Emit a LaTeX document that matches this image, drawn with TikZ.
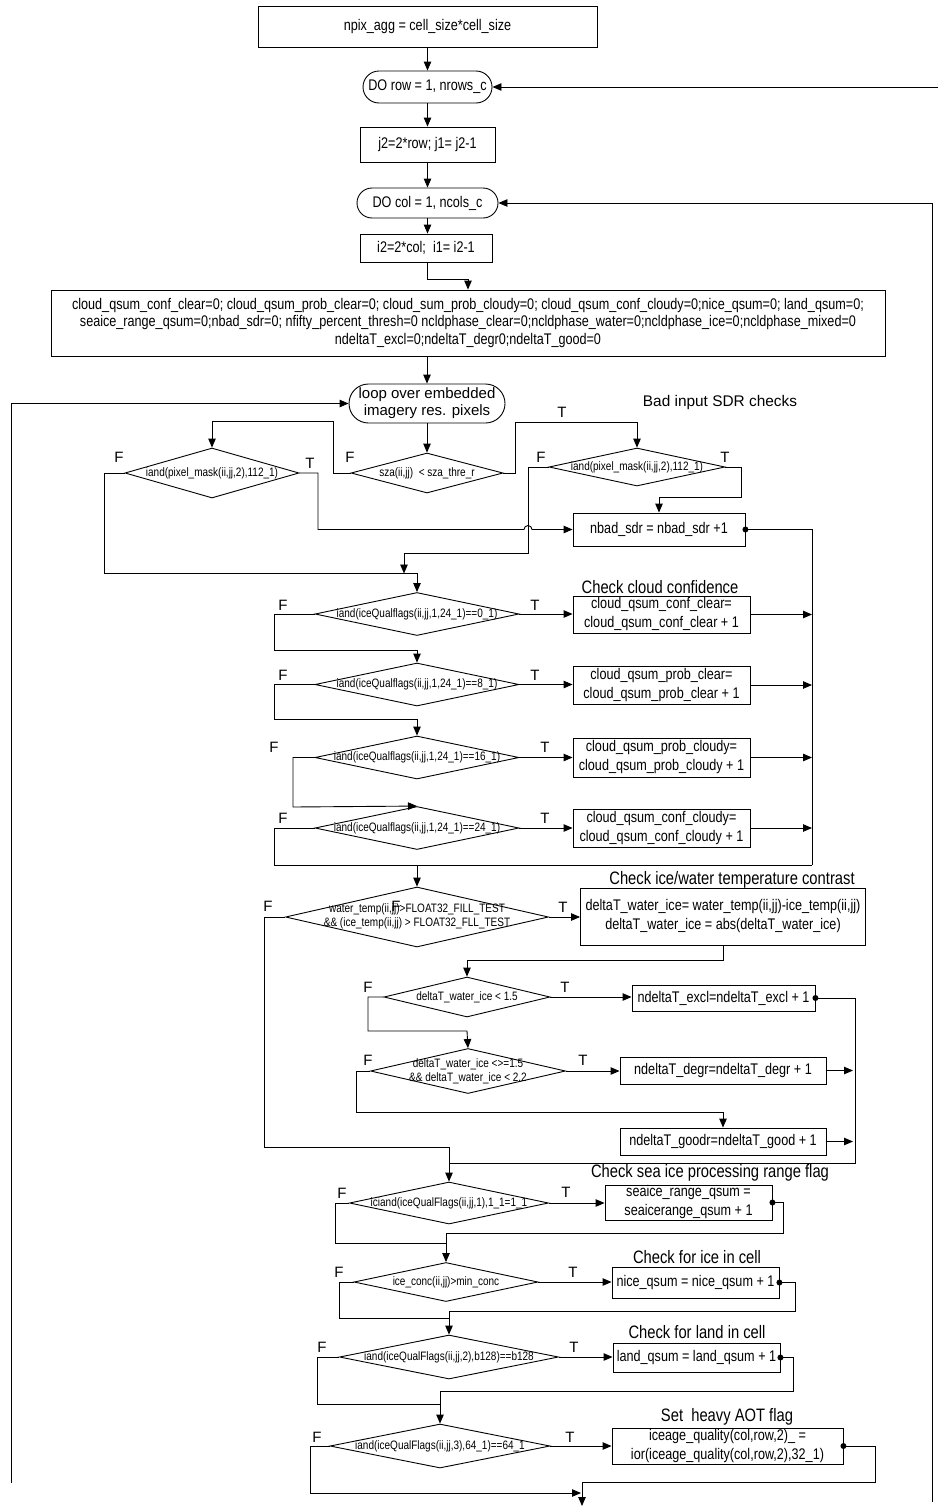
\documentclass[tikz,border=0pt]{standalone}
\usepackage{fontspec}
\setmainfont{Liberation Sans}
\newfontfamily\condensed[FakeStretch=0.82]{Liberation Sans}
\usetikzlibrary{shapes.geometric,shapes.misc,arrows.meta}

\newcommand{\bxfont}{\condensed\fontsize{15.4}{19}\selectfont}
\newcommand{\dmfont}{\condensed\fontsize{12.2}{14}\selectfont}
\newcommand{\ltfont}{\fontsize{15}{17}\selectfont}
\newcommand{\hdfont}{\condensed\fontsize{18}{20}\selectfont}

\tikzset{
  wire/.style={line width=0.9pt},
  arr/.style={wire,-{Triangle[length=9pt,width=7.5pt]}},
  box/.style={draw,wire,rectangle,inner sep=0pt,align=center,font=\bxfont},
  capsule/.style={draw,wire,rounded rectangle,inner sep=0pt,align=center,font=\bxfont},
  dia/.style={draw,wire,diamond,inner sep=0pt},
  dtext/.style={font=\dmfont,align=center,inner sep=0pt},
  tf/.style={font=\ltfont,inner sep=0pt},
  head/.style={font=\hdfont,inner sep=0pt},
}

\begin{document}
\begin{tikzpicture}[x=1pt,y=-1pt]
\useasboundingbox (0,0) rectangle (938,1507);

% ---------- set-up and loops ----------
\node[box,minimum width=339pt,minimum height=41pt] (npix) at (427.5,26.5) {npix\_agg = cell\_size*cell\_size};
\node[capsule,minimum width=129pt,minimum height=32pt] (dorow) at (427.5,87) {DO row = 1, nrows\_c};
\node[box,minimum width=135pt,minimum height=35pt] (jbox) at (427.5,144.5) {j2=2*row; j1= j2-1};
\node[capsule,minimum width=141pt,minimum height=30pt] (docol) at (427.5,203) {DO col = 1, ncols\_c};
\node[box,minimum width=132pt,minimum height=28pt] (ibox) at (426,248) {i2=2*col;\ \ i1= i2-1};
\node[box,minimum width=834pt,minimum height=66pt,font=\condensed\fontsize{15.4}{17.5}\selectfont] (init) at (468,323)
 {cloud\_qsum\_conf\_clear=0; cloud\_qsum\_prob\_clear=0; cloud\_sum\_prob\_cloudy=0; cloud\_qsum\_conf\_cloudy=0;nice\_qsum=0; land\_qsum=0;\\
  seaice\_range\_qsum=0;nbad\_sdr=0; nfifty\_percent\_thresh=0 ncldphase\_clear=0;ncldphase\_water=0;ncldphase\_ice=0;ncldphase\_mixed=0\\
  ndeltaT\_excl=0;ndeltaT\_degr0;ndeltaT\_good=0};
\node[capsule,minimum width=156pt,minimum height=39pt,font=\ltfont] (loop) at (427,403.5) {loop over embedded\\imagery res. pixels};

% ---------- bad input SDR checks ----------
\node[dia,minimum width=152pt,minimum height=40pt] (sza) at (427,473) {};
\node[dtext] (szat) at (sza) {sza(ii,jj)\ \ < sza\_thre\_r};
\node[dia,minimum width=174pt,minimum height=50pt] (pmA) at (212,473) {};
\node[dtext] (pmAt) at (pmA) {iand(pixel\_mask(ii,jj,2),112\_1)};
\node[dia,minimum width=176pt,minimum height=38pt] (pmB) at (637,467) {};
\node[dtext] (pmBt) at (pmB) {iand(pixel\_mask(ii,jj,2),112\_1)};
\node[box,minimum width=172pt,minimum height=33pt] (nbad) at (659,529.5) {nbad\_sdr = nbad\_sdr +1};
\node[font=\fontsize{15.4}{18}\selectfont,inner sep=0pt] (hsdr) at (720,403) {Bad input SDR checks};

% ---------- cloud confidence ----------
\foreach \n/\y in {c1/614,c2/684.5,c3/757.5,c4/828}
  \node[dia,minimum width=204pt,minimum height=43pt] (\n) at (417,\y) {};
\node[dtext] (c1t) at (c1) {iand(iceQualflags(ii,jj,1,24\_1)==0\_1)};
\node[dtext] (c2t) at (c2) {iand(iceQualflags(ii,jj,1,24\_1)==8\_1)};
\node[dtext] (c3t) at (c3) {iand(iceQualflags(ii,jj,1,24\_1)==16\_1)};
\node[dtext] (c4t) at (c4) {iand(iceQualflags(ii,jj,1,24\_1)==24\_1)};
\node[box,minimum width=177pt,minimum height=37pt] (b1) at (661.5,614.5) {cloud\_qsum\_conf\_clear=\\cloud\_qsum\_conf\_clear + 1};
\node[box,minimum width=177pt,minimum height=38pt] (b2) at (661.5,685) {cloud\_qsum\_prob\_clear=\\cloud\_qsum\_prob\_clear + 1};
\node[box,minimum width=177pt,minimum height=39pt] (b3) at (661.5,757.5) {cloud\_qsum\_prob\_cloudy=\\cloud\_qsum\_prob\_cloudy + 1};
\node[box,minimum width=177pt,minimum height=38pt] (b4) at (661.5,828) {cloud\_qsum\_conf\_cloudy=\\cloud\_qsum\_conf\_cloudy + 1};
\node[head] (hcld) at (660,587) {Check cloud confidence};

% ---------- ice/water temperature contrast ----------
\node[dia,minimum width=263pt,minimum height=60pt] (water) at (417,917) {};
\node[dtext] (watert) at (417,916) {water\_temp(ii,jj)>FLOAT32\_FILL\_TEST\\\&\& (ice\_temp(ii,jj) > FLOAT32\_FLL\_TEST};
\node[box,minimum width=285pt,minimum height=57pt] (dT) at (723,916.5) {deltaT\_water\_ice= water\_temp(ii,jj)-ice\_temp(ii,jj)\\deltaT\_water\_ice = abs(deltaT\_water\_ice)};
\node[head] (hdT) at (732,880) {Check ice/water temperature contrast};
\node[dia,minimum width=166pt,minimum height=40pt] (dA) at (467,997) {};
\node[dtext] (dAt) at (dA) {deltaT\_water\_ice < 1.5};
\node[box,minimum width=183pt,minimum height=26pt] (excl) at (723.5,998) {ndeltaT\_excl=ndeltaT\_excl + 1};
\node[dia,minimum width=195pt,minimum height=45pt] (dB) at (468,1071) {};
\node[dtext] (dBt) at (dB) {deltaT\_water\_ice <>=1.5\\\&\& deltaT\_water\_ice < 2.2};
\node[box,minimum width=206pt,minimum height=27pt] (degr) at (723,1070.5) {ndeltaT\_degr=ndeltaT\_degr + 1};
\node[box,minimum width=206pt,minimum height=27pt] (good) at (723,1141.5) {ndeltaT\_goodr=ndeltaT\_good + 1};

% ---------- range, ice, land, AOT ----------
\node[dia,minimum width=199pt,minimum height=42pt] (sA) at (449,1203) {};
\node[dtext] (sAt) at (sA) {iciand(iceQualFlags(ii,jj,1),1\_1=1\_1};
\node[box,minimum width=167pt,minimum height=35pt] (seaice) at (688.5,1202.5) {seaice\_range\_qsum =\\seaicerange\_qsum + 1};
\node[head] (hsea) at (710,1173) {Check sea ice processing range flag};
\node[dia,minimum width=184pt,minimum height=39pt] (sB) at (446,1282) {};
\node[dtext] (sBt) at (sB) {ice\_conc(ii,jj)>min\_conc};
\node[box,minimum width=167pt,minimum height=31pt] (nice) at (695.5,1282.5) {nice\_qsum = nice\_qsum + 1};
\node[head] (hice) at (697,1257) {Check for ice in cell};
\node[dia,minimum width=219pt,minimum height=44pt] (sC) at (449,1357) {};
\node[dtext] (sCt) at (sC) {iand(iceQualFlags(ii,jj,2),b128)==b128};
\node[box,minimum width=167pt,minimum height=29pt] (land) at (696.5,1357.5) {land\_qsum = land\_qsum + 1};
\node[head] (hland) at (697,1332) {Check for land in cell};
\node[dia,minimum width=220pt,minimum height=44pt] (sD) at (440,1446) {};
\node[dtext] (sDt) at (sD) {iand(iceQualFlags(ii,jj,3),64\_1)==64\_1};
\node[box,minimum width=231pt,minimum height=36pt] (aot) at (727.5,1446) {iceage\_quality(col,row,2)\_ =\\ior(iceage\_quality(col,row,2),32\_1)};
\node[head] (haot) at (727,1417) {Set\ \ heavy AOT flag};

% ---------- T / F labels ----------
\foreach \t/\x/\y in {F/119/457,T/310/463,F/350/457,T/562/412,F/541/457,T/725/457,
  F/283/605,T/535/605,F/283/675,T/535/675,F/274/747,T/545/747,F/283/818,T/545/818,
  F/268/906,T/563/907,F/396/906,F/368/987,T/565/987,F/368/1060,T/583/1060,
  F/342/1193,T/566/1192,F/339/1272,T/573/1272,F/322/1347,T/574/1347,F/317/1437,T/570/1437}
  \node[tf] at (\x,\y) {\t};

% ---------- connectors: main trunk ----------
\draw[arr] (npix.south) -- (dorow.north);
\draw[arr] (dorow.south) -- (jbox.north);
\draw[arr] (jbox.south) -- (docol.north);
\draw[arr] (docol.south) -- (ibox.north -| docol.south);
\draw[arr] (ibox.south -| docol.south) -- (427.5,279) -- (468,279) -- (init.north);
\draw[arr] (init.south -| loop.north) -- (loop.north);
\draw[arr] (loop.south) -- (sza.north);

% loop returns
\coordinate (rowret) at (938,87);
\coordinate (colret) at (932,1502);
\coordinate (pixret) at (11,1483);
\draw[arr] (rowret) -- (dorow.east);
\draw[arr] (colret) -- (932,203) -- (docol.east);
\draw[arr] (pixret) -- (11,403.5) -- (loop.west);

% bad SDR tests
\draw[arr] (sza.west) -- (333,473) -- (333,421) -- (212,421) -- (pmA.north);
\draw[arr] (sza.east) -- (515,473) -- (515,422) -- (637,422) -- (pmB.north);
\draw[arr] (pmA.east) -- (318,473) -- (318,529.5) -- (524,529.5)
  arc[start angle=180,end angle=0,radius=4pt] -- (nbad.west);
\draw[arr] (pmB.east) -- (741,467) -- (741,497) -- (659,497) -- (nbad.north);
\draw[arr] (pmB.west) -- (528,467) -- (528,553) -- (404,553) -- (404,573.5);
\draw[arr] (pmA.west) -- (104,473) -- (104,573) -- (417,573) -- (c1.north);
\fill (nbad.east) circle[radius=3pt];
\draw[wire] (nbad.east) -- (812,529.5) -- (812,865);

% cloud confidence chain
\draw[arr] (c1.west) -- (274,614) -- (274,650) -- (417,650) -- (c2.north);
\draw[arr] (c2.west) -- (274,684.5) -- (274,719) -- (417,719) -- (c3.north);
\draw[arr] (c3.west) -- (293,757.5) -- (293,807) -- (c4.north);
\draw[wire] (c4.west) -- (274,828) -- (274,865) -- (812,865);
\foreach \d/\b in {c1/b1,c2/b2,c3/b3,c4/b4}{
  \draw[arr] (\d.east) -- (\d.east -| \b.west);
  \draw[arr] (\b.east) -- (\b.east -| 812,0);
}
\draw[arr] (417,865) -- (water.north);

% temperature contrast
\draw[arr] (water.east) -- (water.east -| dT.west);
\draw[arr] (dT.south) -- (723,960) -- (467,960) -- (dA.north);
\draw[arr] (dA.east) -- (dA.east -| excl.west);
\fill (excl.east) circle[radius=3pt];
\draw[wire] (excl.east) -- (855,998) -- (855,1163) -- (449,1163);
\draw[arr] (dA.west) -- (368,997) -- (368,1031) -- (467,1031) -- (dB.north);
\draw[arr] (dB.east) -- (dB.east -| degr.west);
\draw[arr] (degr.east) -- (853,1070.5);
\draw[arr] (dB.west) -- (356,1071) -- (356,1112) -- (723,1112) -- (good.north);
\draw[arr] (good.east) -- (853,1141.5);
\draw[arr] (water.west) -- (264,917) -- (264,1147) -- (449,1147) -- (sA.north);

% range, ice, land, AOT
\draw[arr] (sA.east) -- (sA.east -| seaice.west);
\fill (seaice.east) circle[radius=3pt];
\draw[arr] (seaice.east) -- (783,1202.5) -- (783,1233) -- (446,1233) -- (sB.north);
\draw[wire] (sA.west) -- (335,1203) -- (335,1243) -- (446,1243);
\draw[arr] (sB.east) -- (sB.east -| nice.west);
\fill (nice.east) circle[radius=3pt];
\draw[arr] (nice.east) -- (795,1282.5) -- (795,1311) -- (449,1311) -- (sC.north);
\draw[wire] (sB.west) -- (339,1282) -- (339,1318) -- (449,1318);
\draw[arr] (sC.east) -- (sC.east -| land.west);
\fill (land.east) circle[radius=3pt];
\draw[arr] (land.east) -- (793,1357.5) -- (793,1391) -- (440,1391) -- (sD.north);
\draw[wire] (sC.west) -- (317,1357) -- (317,1404) -- (440,1404);
\draw[arr] (sD.east) -- (sD.east -| aot.west);
\fill (aot.east) circle[radius=3pt];
\coordinate (flowout) at (582,1506);
\draw[arr] (aot.east) -- (875,1446) -- (875,1482) -- (582,1482) -- (flowout);
\draw[arr] (sD.west) -- (310,1446) -- (310,1493) -- (581,1493);
\end{tikzpicture}
\end{document}
